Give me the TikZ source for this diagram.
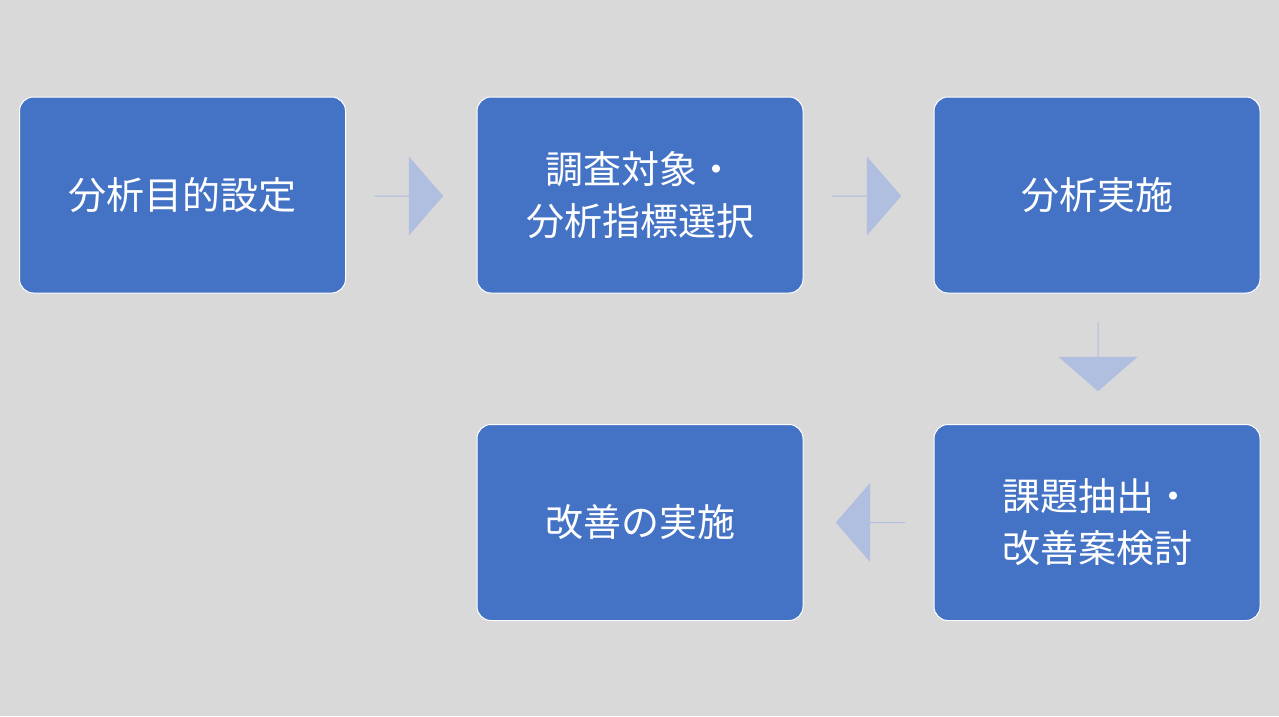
\documentclass[tikz,border=0pt]{standalone}
\usepackage{fontspec}
\newfontfamily\cjk{Noto Sans CJK JP}
\usetikzlibrary{positioning,shapes.arrows}
\definecolor{bgGray}{HTML}{D9D9D9}
\definecolor{boxBlue}{HTML}{4472C4}
\definecolor{arrBlue}{HTML}{B0BEE0}
\tikzset{
  stepbox/.style={draw=white, line width=1pt, fill=boxBlue, rounded corners=14pt,
    minimum width=326pt, minimum height=196pt, align=center, text=white,
    font=\cjk\fontsize{38pt}{52pt}\selectfont, inner sep=0pt},
  flowarrow/.style={single arrow, fill=arrBlue, draw=none, inner sep=0pt,
    minimum height=69pt, minimum width=79pt, single arrow head extend=15.5pt,
    single arrow tip angle=98}
}
\begin{document}
\begin{tikzpicture}[x=1pt,y=-1pt]
\fill[bgGray] (0,0) rectangle (1279,716);
\useasboundingbox (0,0) rectangle (1279,716);

% boxes
\node[stepbox] (goal) at (182.5,195) {分析目的設定};
\node[stepbox] (select) at (640,195) {調査対象・\\分析指標選択};
\node[stepbox] (run) at (1097,195) {分析実施};
\node[stepbox] (issue) at (1097,522.5) {課題抽出・\\改善案検討};
\node[stepbox] (improve) at (640,522.5) {改善の実施};

% arrows
\node[flowarrow] (a1) at (408.5,196) {};
\node[flowarrow] (a2) at (866.5,196) {};
\node[flowarrow, shape border rotate=270] (a3) at (1098,356.5) {};
\node[flowarrow, shape border rotate=180] (a4) at (870.5,522.5) {};
\end{tikzpicture}
\end{document}
